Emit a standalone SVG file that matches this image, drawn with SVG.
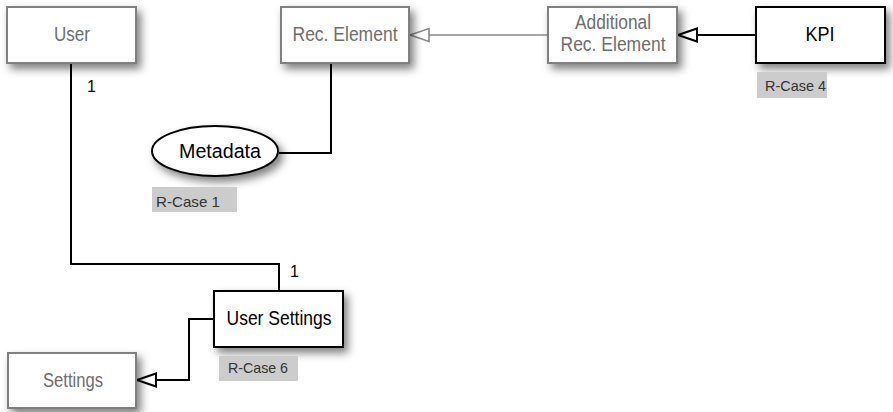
<svg xmlns="http://www.w3.org/2000/svg" width="893" height="412" viewBox="0 0 893 412">
  <style>
    .box { fill: #ffffff; }
    .muted { stroke: #808080; stroke-width: 2; }
    .strong { stroke: #000000; stroke-width: 2; }
    .lbl { font-family: "Liberation Sans", Arial, sans-serif; font-size: 20px; text-anchor: middle; }
    .lbl-muted { fill: #6e6e6e; }
    .lbl-strong { fill: #000000; }
    .tag { fill: #cccccc; }
    .tag-text { font-family: "Liberation Sans", Arial, sans-serif; font-size: 15px; fill: #333333; }
    .mult { font-family: "Liberation Sans", Arial, sans-serif; font-size: 16px; fill: #000000; }
    .wire { fill: none; stroke: #000000; stroke-width: 2; }
    .wire-muted { fill: none; stroke: #888888; stroke-width: 1.6; }
  </style>
  <defs>
    <filter id="shadow" x="-20%" y="-30%" width="150%" height="180%">
      <feDropShadow dx="4" dy="5" stdDeviation="4.5" flood-color="#000000" flood-opacity="0.5"/>
    </filter>
    <!-- hollow triangle for generalisation ends; tip sits on the path start -->
    <marker id="gen" viewBox="0 0 22 16" refX="1" refY="8" markerWidth="22" markerHeight="16" markerUnits="userSpaceOnUse" orient="auto">
      <path d="M1,8 L20,1.5 L20,14.5 Z" fill="#ffffff" stroke="#000000" stroke-width="2"/>
    </marker>
    <marker id="gen-muted" viewBox="0 0 22 16" refX="1" refY="8" markerWidth="22" markerHeight="16" markerUnits="userSpaceOnUse" orient="auto">
      <path d="M1,8 L20,1.5 L20,14.5 Z" fill="#ffffff" stroke="#888888" stroke-width="1.6"/>
    </marker>
  </defs>

  <!-- connectors -->
  <g id="connectors">
    <path class="wire" d="M71,63 V264 H279 V291"/>
    <path class="wire" d="M279,153 H331 V63"/>
    <path class="wire-muted" marker-start="url(#gen-muted)" d="M410,35 H548"/>
    <path class="wire" marker-start="url(#gen)" d="M678,35 H756"/>
    <path class="wire" marker-start="url(#gen)" d="M137,380 H189 V319 H214"/>
    <text class="mult" x="87" y="92">1</text>
    <text class="mult" x="290" y="277">1</text>
  </g>

  <g id="user">
    <rect class="box muted" x="7" y="7" width="129" height="56" filter="url(#shadow)"/>
    <text class="lbl lbl-muted" x="72" y="41" textLength="36" lengthAdjust="spacingAndGlyphs">User</text>
  </g>

  <g id="rec-element">
    <rect class="box muted" x="281" y="7" width="128" height="56" filter="url(#shadow)"/>
    <text class="lbl lbl-muted" x="345" y="41" textLength="105" lengthAdjust="spacingAndGlyphs">Rec. Element</text>
  </g>

  <g id="additional-rec-element">
    <rect class="box muted" x="548" y="7" width="129" height="56" filter="url(#shadow)"/>
    <text class="lbl lbl-muted" x="613" y="29" textLength="76" lengthAdjust="spacingAndGlyphs">Additional</text>
    <text class="lbl lbl-muted" x="613" y="51" textLength="105" lengthAdjust="spacingAndGlyphs">Rec. Element</text>
  </g>

  <g id="kpi">
    <rect class="box strong" x="756" y="7" width="129" height="56" filter="url(#shadow)"/>
    <text class="lbl lbl-strong" x="820" y="41" textLength="29" lengthAdjust="spacingAndGlyphs">KPI</text>
    <rect class="tag" x="757" y="72" width="70" height="26"/>
    <text class="tag-text" x="765" y="91" textLength="61" lengthAdjust="spacingAndGlyphs">R-Case 4</text>
  </g>

  <g id="metadata">
    <ellipse class="box strong" cx="215" cy="151" rx="63" ry="25" filter="url(#shadow)"/>
    <text class="lbl lbl-strong" x="220" y="158" textLength="82" lengthAdjust="spacingAndGlyphs">Metadata</text>
    <rect class="tag" x="152" y="187" width="85" height="25"/>
    <text class="tag-text" x="156" y="207" textLength="64" lengthAdjust="spacingAndGlyphs">R-Case 1</text>
  </g>

  <g id="user-settings">
    <rect class="box strong" x="214" y="291" width="129" height="56" filter="url(#shadow)"/>
    <text class="lbl lbl-strong" x="279" y="325" textLength="105" lengthAdjust="spacingAndGlyphs">User Settings</text>
    <rect class="tag" x="219" y="356" width="79" height="25"/>
    <text class="tag-text" x="228" y="373" textLength="60" lengthAdjust="spacingAndGlyphs">R-Case 6</text>
  </g>

  <g id="settings">
    <rect class="box muted" x="8" y="353" width="128" height="55" filter="url(#shadow)"/>
    <text class="lbl lbl-muted" x="73" y="387" textLength="60" lengthAdjust="spacingAndGlyphs">Settings</text>
  </g>
</svg>
